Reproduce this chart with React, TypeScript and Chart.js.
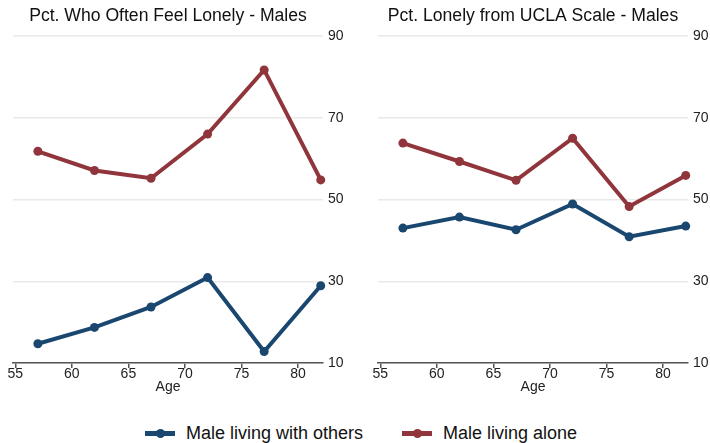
import React, { useEffect, useRef } from "react";
import { Chart, registerables } from "chart.js";

Chart.register(...registerables);

const ages = [57, 62, 67, 72, 77, 82];
const oftenWithOthers = [14.7, 18.7, 23.7, 30.9, 12.8, 28.9];
const oftenAlone = [61.8, 57.1, 55.2, 66.0, 81.7, 54.8];
const uclaWithOthers = [43.0, 45.7, 42.6, 48.9, 40.9, 43.5];
const uclaAlone = [63.8, 59.3, 54.7, 65.0, 48.3, 55.9];
const xTicks = [55, 60, 65, 70, 75, 80];
const yTicks = [10, 30, 50, 70, 90];

const titles = ["Pct. Who Often Feel Lonely - Males", "Pct. Lonely from UCLA Scale - Males"];
const seriesNames = ["Male living with others", "Male living alone"];

const BLUE = "#1a476f";
const RED = "#90353b";
const FONT = "'Liberation Sans', Arial, Helvetica, sans-serif";

function makeDs(label: string, ys: number[], color: string) {
  return {
    label,
    data: ages.map((a, i) => ({ x: a, y: ys[i] })),
    borderColor: color,
    backgroundColor: color,
    borderWidth: 4,
    pointRadius: 4.5,
    pointHoverRadius: 4.5,
    pointBorderWidth: 0,
    tension: 0,
    clip: false as any,
  };
}

function Panel({ title, others, alone, padRight, width }: { title: string; others: number[]; alone: number[]; padRight: number; width: number }) {
  const ref = useRef<HTMLCanvasElement>(null);
  useEffect(() => {
    if (!ref.current) return;
    const chart = new Chart(ref.current, {
      type: "line",
      data: {
        datasets: [makeDs(seriesNames[0], others, BLUE), makeDs(seriesNames[1], alone, RED)],
      },
      options: {
        animation: false,
        responsive: false,
        layout: { padding: { left: 13, right: padRight, top: 0, bottom: 6 } },
        plugins: {
          legend: { display: false },
          tooltip: { enabled: false },
          title: {
            display: true,
            text: title,
            fullSize: false,
            color: "#111",
            font: { family: FONT, size: 17.6, weight: "normal" },
            padding: { top: 6, bottom: 8.9 },
          },
        },
        scales: {
          x: {
            type: "linear",
            min: 54.8,
            max: 82.2,
            afterBuildTicks: (s: any) => {
              s.ticks = xTicks.map((v) => ({ value: v }));
            },
            grid: { drawOnChartArea: false, drawTicks: true, tickLength: 5, color: "#555", lineWidth: 1.5 },
            border: { display: true, color: "#555", width: 1.5 },
            ticks: {
              color: "#222",
              padding: -1,
              maxRotation: 0,
              autoSkip: false,
              font: { family: FONT, size: 14, lineHeight: 1 },
            },
            title: {
              display: true,
              text: "Age",
              color: "#222",
              font: { family: FONT, size: 14, lineHeight: 1 },
              padding: { top: 0, bottom: 0 },
            },
          },
          y: {
            type: "linear",
            position: "right",
            min: 10,
            max: 90,
            afterBuildTicks: (s: any) => {
              s.ticks = yTicks.map((v) => ({ value: v }));
            },
            afterFit: (s: any) => {
              s.width = 21;
            },
            grid: { drawTicks: false, color: "#e9e9e9", lineWidth: 1.5 },
            border: { display: false },
            ticks: {
              color: "#222",
              padding: 5,
              font: { family: FONT, size: 14 },
            },
          },
        },
      },
    });
    return () => chart.destroy();
  }, []);
  return <canvas ref={ref} width={width} height={400} />;
}

function LegendItem({ color, label, width }: { color: string; label: string; width: number }) {
  return (
    <div style={{ display: "flex", alignItems: "center", width }}>
      <div style={{ position: "relative", width: 30, height: 10, marginRight: 11 }}>
        <div style={{ position: "absolute", left: 0, top: 2.5, width: 30, height: 5, background: color }} />
        <div style={{ position: "absolute", left: 10.5, top: 0.5, width: 9, height: 9, borderRadius: "50%", background: color }} />
      </div>
      <span style={{ fontFamily: FONT, fontSize: 18, color: "#111", whiteSpace: "nowrap" }}>{label}</span>
    </div>
  );
}

export default function App() {
  return (
    <div style={{ position: "absolute", left: 0, top: 0, width: 710, height: 443, background: "#fff", overflow: "hidden" }}>
      <div style={{ position: "absolute", left: 0, top: 0 }}>
        <Panel title={titles[0]} others={oftenWithOthers} alone={oftenAlone} padRight={11} width={355} />
      </div>
      <div style={{ position: "absolute", left: 365, top: 0 }}>
        <Panel title={titles[1]} others={uclaWithOthers} alone={uclaAlone} padRight={1} width={345} />
      </div>
      <div style={{ position: "absolute", left: 145, top: 422, height: 22, display: "flex", alignItems: "center" }}>
        <LegendItem color={BLUE} label={seriesNames[0]} width={257} />
        <LegendItem color={RED} label={seriesNames[1]} width={200} />
      </div>
    </div>
  );
}
